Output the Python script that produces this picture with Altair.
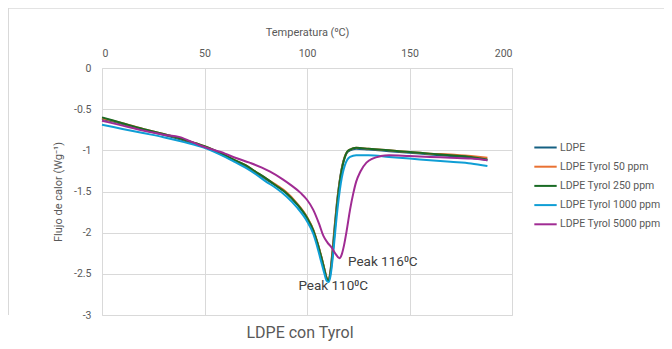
import altair as alt
import pandas as pd

# ---- data ----
series_names = ["LDPE", "LDPE Tyrol 50 ppm", "LDPE Tyrol 250 ppm", "LDPE Tyrol 1000 ppm", "LDPE Tyrol 5000 ppm"]
series_colors = ["#156082", "#E97132", "#196B24", "#0F9ED5", "#A02B93"]

temp_main = [0, 10, 20, 30, 40, 50, 60, 64, 70, 75, 80, 85, 90, 95, 100, 103, 105, 107, 108.5, 109.5,
             110.5, 111.5, 112.5, 113.5, 114.5, 115.5, 116.5, 117.5, 118.5, 119.5, 121, 124, 130, 140,
             150, 160, 170, 180, 188]

flow_ldpe = [-0.62, -0.68, -0.75, -0.81, -0.88, -0.96, -1.07, -1.12, -1.19, -1.27, -1.35, -1.43, -1.52,
             -1.65, -1.82, -1.97, -2.12, -2.30, -2.45, -2.55, -2.59, -2.45, -2.20, -1.92, -1.66, -1.45,
             -1.28, -1.16, -1.08, -1.03, -1.00, -0.98, -0.99, -1.01, -1.03, -1.05, -1.07, -1.09, -1.12]

flow_50 = [-0.61, -0.67, -0.74, -0.80, -0.87, -0.95, -1.06, -1.11, -1.18, -1.26, -1.34, -1.42, -1.51,
           -1.64, -1.81, -1.96, -2.11, -2.29, -2.44, -2.54, -2.58, -2.46, -2.22, -1.94, -1.68, -1.46,
           -1.29, -1.16, -1.07, -1.02, -0.99, -0.97, -0.98, -1.00, -1.02, -1.04, -1.05, -1.07, -1.09]

flow_250 = [-0.60, -0.67, -0.74, -0.80, -0.87, -0.95, -1.06, -1.11, -1.18, -1.26, -1.34, -1.43, -1.52,
            -1.65, -1.82, -1.97, -2.12, -2.30, -2.45, -2.55, -2.58, -2.48, -2.26, -1.98, -1.71, -1.48,
            -1.30, -1.17, -1.08, -1.02, -0.99, -0.97, -0.98, -1.00, -1.02, -1.04, -1.06, -1.08, -1.11]

flow_1000 = [-0.69, -0.74, -0.79, -0.84, -0.90, -0.97, -1.08, -1.13, -1.21, -1.29, -1.38, -1.46, -1.56,
             -1.69, -1.86, -2.01, -2.17, -2.36, -2.50, -2.58, -2.60, -2.52, -2.32, -2.06, -1.80, -1.58,
             -1.40, -1.27, -1.18, -1.12, -1.08, -1.06, -1.06, -1.08, -1.10, -1.12, -1.14, -1.16, -1.19]

temp_5000 = [0, 10, 20, 30, 38, 45, 50, 60, 65, 72, 78, 82, 88, 92, 97, 100, 103, 106, 108, 110, 112,
             114, 115.8, 117, 118, 119.4, 121, 122.6, 124, 126, 129, 132, 136, 140, 150, 160, 170, 180, 188]

flow_5000 = [-0.64, -0.70, -0.76, -0.81, -0.84, -0.91, -0.96, -1.04, -1.09, -1.15, -1.21, -1.26, -1.35,
             -1.42, -1.52, -1.60, -1.72, -1.90, -2.04, -2.12, -2.18, -2.26, -2.31, -2.26, -2.16, -1.97,
             -1.72, -1.52, -1.38, -1.26, -1.15, -1.10, -1.07, -1.06, -1.07, -1.08, -1.09, -1.10, -1.12]

peak_labels = ["Peak 110\u2070C", "Peak 116\u2070C"]
peak_temp = [95.8, 120.0]
peak_flow = [-2.65, -2.36]

y_ticks = [0, -0.5, -1, -1.5, -2, -2.5, -3]
x_ticks = [0, 50, 100, 150, 200]

# ---- build tables ----
rows = []
for name, temps, flows in [
    (series_names[0], temp_main, flow_ldpe),
    (series_names[1], temp_main, flow_50),
    (series_names[2], temp_main, flow_250),
    (series_names[3], temp_main, flow_1000),
    (series_names[4], temp_5000, flow_5000),
]:
    for i, (t, f) in enumerate(zip(temps, flows)):
        rows.append({"serie": name, "temp": t, "flujo": f, "i": i})
df = pd.DataFrame(rows)
peaks = pd.DataFrame({"label": peak_labels, "temp": peak_temp, "flujo": peak_flow})

FONT = "Roboto"
GREY = "#595959"

x_scale = alt.Scale(domain=[0, 200], nice=False)
y_scale = alt.Scale(domain=[-3, 0], nice=False)

lines = alt.Chart(df).mark_line(strokeWidth=2, interpolate="monotone").encode(
    x=alt.X("temp:Q", scale=x_scale,
            axis=alt.Axis(orient="top", values=x_ticks, title="Temperatura (\u2070C)",
                          titleFontSize=11, titleFontWeight="normal", titleColor=GREY, titlePadding=11,
                          labelFontSize=10.5, labelColor=GREY, labelPadding=10, ticks=False, domain=False,
                          gridColor="#d9d9d9", labelFont=FONT, titleFont=FONT)),
    y=alt.Y("flujo:Q", scale=y_scale,
            axis=alt.Axis(values=y_ticks, title="Flujo de calor (Wg\u207b\u00b9)", labelExpr="'' + datum.value",
                          titleFontSize=11, titleFontWeight="normal", titleColor=GREY, titlePadding=10,
                          labelFontSize=10.5, labelColor=GREY, labelPadding=11, ticks=False, domain=False,
                          gridColor="#d9d9d9", labelFont=FONT, titleFont=FONT)),
    color=alt.Color("serie:N", scale=alt.Scale(domain=series_names, range=series_colors),
                    sort=series_names,
                    legend=alt.Legend(title=None, orient="none", legendX=431, legendY=67,
                                      symbolType="stroke", symbolSize=500, symbolStrokeWidth=2,
                                      labelFontSize=10.5, labelColor=GREY, labelFont=FONT,
                                      rowPadding=1.2, padding=0, labelOffset=2)),
    order="i:Q",
    detail="serie:N",
)

texts = alt.Chart(peaks).mark_text(align="left", baseline="middle", fontSize=13.5,
                                   color="#404040", font=FONT).encode(
    x=alt.X("temp:Q", scale=x_scale), y=alt.Y("flujo:Q", scale=y_scale), text="label:N")

border_top = alt.Chart(peaks).mark_rule(color="#d9d9d9", strokeWidth=1).encode(
    x=alt.value(-94), x2=alt.value(562), y=alt.value(-60))
border_left = alt.Chart(peaks).mark_rule(color="#d9d9d9", strokeWidth=1).encode(
    x=alt.value(-93.5), y=alt.value(-60), y2=alt.value(247))

chart = alt.layer(border_top, border_left, lines, texts).properties(
    width=410, height=247,
    title=alt.TitleParams("LDPE con Tyrol", orient="bottom", fontSize=16, fontWeight="normal",
                          color=GREY, font=FONT, offset=4, dx=-7),
    autosize=alt.AutoSizeParams(type="none"),
    padding={"left": 94, "top": 60, "right": 152, "bottom": 26},
).configure_view(stroke=None).configure(background="white")

chart.save("out.html", embed_options={"renderer": "svg", "actions": False})
